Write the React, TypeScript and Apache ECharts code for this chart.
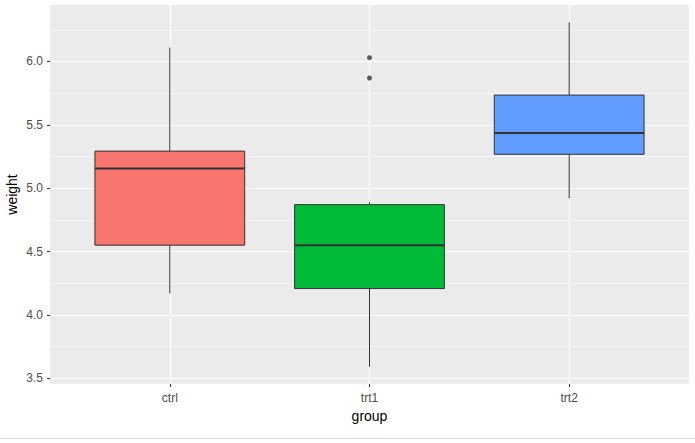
import React, { useEffect, useRef } from "react";
import * as echarts from "echarts";

const categories = ["ctrl", "trt1", "trt2"];
const mins = [4.17, 3.59, 4.92];
const q1s = [4.55, 4.2075, 5.2675];
const medians = [5.155, 4.55, 5.435];
const q3s = [5.2925, 4.87, 5.735];
const maxs = [6.11, 4.89, 6.31];
const outliers: number[][] = [
  [2, 5.87],
  [2, 6.03],
];
const fills = ["#F8766D", "#00BA38", "#619CFF"];
const yMajor = [3.5, 4.0, 4.5, 5.0, 5.5, 6.0];
const yMinor = [3.75, 4.25, 4.75, 5.25, 5.75, 6.25];
const xPositions = [1, 2, 3];

export default function App() {
  const ref = useRef<HTMLDivElement>(null);
  useEffect(() => {
    if (!ref.current) return;
    const chart = echarts.init(ref.current, null, { renderer: "svg" });
    const boxData = categories.map((_, i) => [
      i + 1,
      mins[i],
      q1s[i],
      medians[i],
      q3s[i],
      maxs[i],
    ]);
    const font = "'Liberation Sans', Arial, sans-serif";
    chart.setOption({
      animation: false,
      grid: {
        left: 50,
        right: 6,
        top: 5,
        bottom: 59,
        show: true,
        backgroundColor: "#EBEBEB",
        borderWidth: 0,
        containLabel: false,
        outerBoundsMode: "none",
      },
      xAxis: {
        type: "value",
        min: 0.4,
        max: 3.6,
        name: "group",
        nameLocation: "middle",
        nameGap: 25,
        nameMoveOverlap: false,
        nameTextStyle: { fontFamily: font, fontSize: 14, color: "#000" },
        axisLine: { show: false },
        splitLine: { show: false },
        axisTick: {
          show: true,
          length: 3,
          customValues: xPositions,
          lineStyle: { color: "#333333", width: 1 },
        },
        axisLabel: {
          customValues: xPositions,
          formatter: (v: number) => categories[Math.round(v) - 1] ?? "",
          fontFamily: font,
          fontSize: 12,
          color: "#4D4D4D",
          margin: 8,
        },
      },
      yAxis: {
        type: "value",
        min: 3.454,
        max: 6.446,
        name: "weight",
        nameLocation: "middle",
        nameGap: 31,
        nameMoveOverlap: false,
        nameTextStyle: { fontFamily: font, fontSize: 14, color: "#000" },
        axisLine: { show: false },
        splitLine: { show: false },
        axisTick: {
          show: true,
          length: 3,
          customValues: yMajor,
          lineStyle: { color: "#333333", width: 1 },
        },
        axisLabel: {
          customValues: yMajor,
          formatter: (v: number) => v.toFixed(1),
          fontFamily: font,
          fontSize: 12,
          color: "#4D4D4D",
          margin: 7,
        },
      },
      series: [
        {
          type: "scatter",
          data: outliers,
          symbolSize: 5,
          itemStyle: { color: "#333333" },
          z: 3,
          markLine: {
            silent: true,
            z: 1,
            symbol: ["none", "none"],
            label: { show: false },
            emphasis: { disabled: true },
            data: [
              ...yMinor.map((v) => ({
                yAxis: v,
                lineStyle: { color: "#FFFFFF", width: 0.6, type: "solid" },
              })),
              ...yMajor.map((v) => ({
                yAxis: v,
                lineStyle: { color: "#FFFFFF", width: 1.2, type: "solid" },
              })),
              ...xPositions.map((v) => ({
                xAxis: v,
                lineStyle: { color: "#FFFFFF", width: 1.2, type: "solid" },
              })),
            ],
          },
        },
        {
          type: "custom",
          z: 2,
          data: boxData,
          encode: { x: 0, y: [1, 2, 3, 4, 5] },
          renderItem: (params: any, api: any) => {
            const x = api.value(0);
            const i = params.dataIndex;
            const pMin = api.coord([x, api.value(1)]);
            const pQ1 = api.coord([x, api.value(2)]);
            const pMed = api.coord([x, api.value(3)]);
            const pQ3 = api.coord([x, api.value(4)]);
            const pMax = api.coord([x, api.value(5)]);
            const w = api.size([0.75, 0])[0];
            const cx = pMed[0];
            const stroke = "#333333";
            return {
              type: "group",
              children: [
                {
                  type: "line",
                  shape: { x1: cx, y1: pQ3[1], x2: cx, y2: pMax[1] },
                  style: { stroke, lineWidth: 1 },
                },
                {
                  type: "line",
                  shape: { x1: cx, y1: pQ1[1], x2: cx, y2: pMin[1] },
                  style: { stroke, lineWidth: 1 },
                },
                {
                  type: "rect",
                  shape: {
                    x: cx - w / 2,
                    y: pQ3[1],
                    width: w,
                    height: pQ1[1] - pQ3[1],
                  },
                  style: { fill: fills[i], stroke, lineWidth: 1 },
                },
                {
                  type: "line",
                  shape: {
                    x1: cx - w / 2,
                    y1: pMed[1],
                    x2: cx + w / 2,
                    y2: pMed[1],
                  },
                  style: { stroke, lineWidth: 2 },
                },
              ],
            };
          },
        },
      ],
      graphic: [
        {
          type: "rect",
          left: 0,
          top: 438,
          shape: { width: 695, height: 1 },
          style: { fill: "#D9D9D9" },
        },
      ],
    });
    return () => chart.dispose();
  }, []);
  return (
    <div
      ref={ref}
      style={{ position: "absolute", left: 0, top: 0, width: 695, height: 443, background: "#FFFFFF" }}
    />
  );
}
